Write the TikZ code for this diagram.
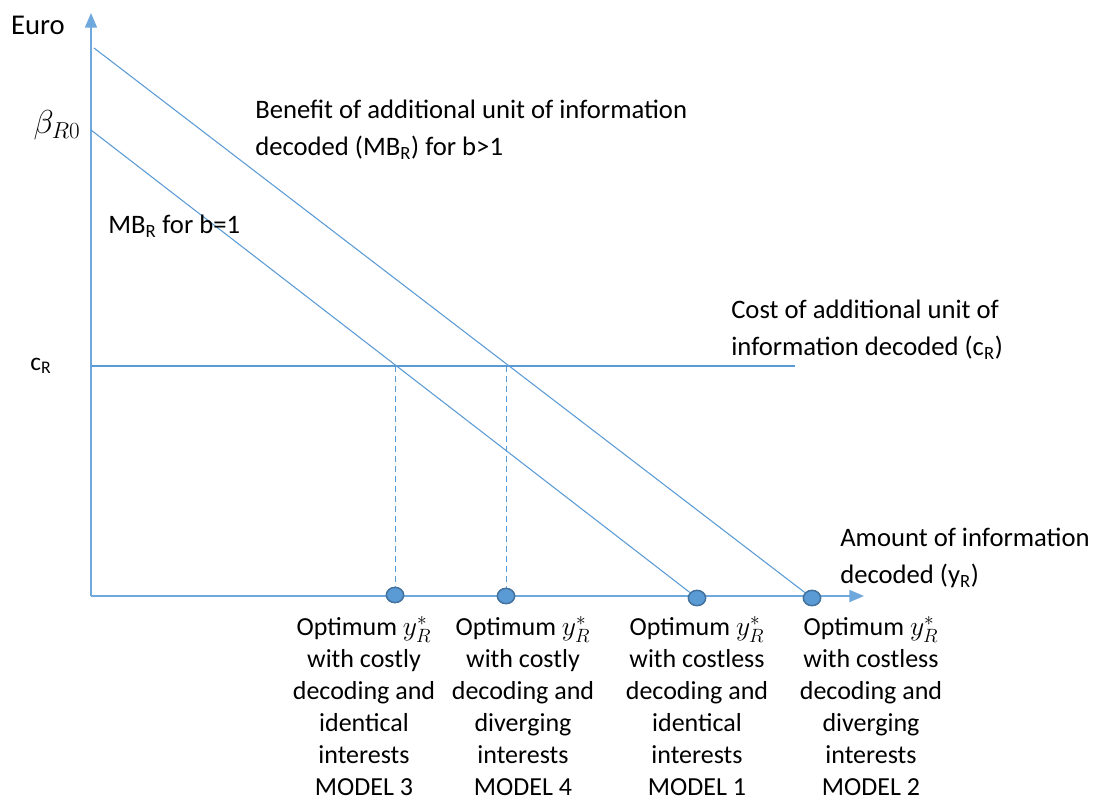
\documentclass[tikz,border=0pt]{standalone}
\usepackage{fontspec}
\setmainfont{Carlito}
\usetikzlibrary{arrows.meta,shapes.geometric}
\definecolor{lineblue}{HTML}{5B9BD5}
\definecolor{axisblue}{HTML}{6FA8DC}
\definecolor{dotedge}{HTML}{41719C}
\newcommand{\subR}{\textsubscript{R}}
\begin{document}
\begin{tikzpicture}[x=0.75pt,y=-0.75pt,
 curve/.style={draw=lineblue, line width=0.8pt},
 axisline/.style={draw=axisblue, line width=1.3pt, -{Triangle[length=11pt,width=9pt]}},
 costline/.style={draw=lineblue, line width=1.5pt},
 guide/.style={draw=lineblue, line width=0.75pt, dash pattern=on 4.5pt off 3pt},
 dot/.style={ellipse, fill=lineblue, draw=dotedge, line width=1.1pt, minimum width=13pt, minimum height=11.5pt, inner sep=0},
 lbl/.style={font=\fontsize{20}{27.5}\selectfont, align=left, anchor=north west, inner sep=0},
 btm/.style={font=\fontsize{19.5}{24}\selectfont, align=center, anchor=north, inner sep=0},
]
\useasboundingbox (0,0) rectangle (1095,800);
\coordinate (O) at (91,596);
\coordinate (ytip) at (91,13);
\coordinate (xtip) at (864,596);
\draw[axisline] (O) -- (ytip);
\draw[axisline] (O) -- (xtip);

\coordinate (c0) at (91,366);
\coordinate (c1) at (795,366);
\draw[costline] (c0) -- (c1);

\node[dot] (d1) at (395,595) {};
\node[dot] (d2) at (506,596) {};
\node[dot] (d3) at (697,598) {};
\node[dot] (d4) at (812,598) {};

\coordinate (u0) at (94,48);
\coordinate (l0) at (91,130);
\draw[curve] (u0) -- (d4);
\draw[curve] (l0) -- (d3);

\coordinate (g1) at (c0 -| d1);
\coordinate (g2) at (c0 -| d2);
\draw[guide] (g1) -- (d1);
\draw[guide] (g2) -- (d2);

\node[font=\fontsize{21.5}{24}\selectfont, inner sep=0] (euro) at (38,25) {Euro};
\node[font=\fontsize{26}{28}\selectfont, inner sep=0] (beta) at (57,125) {$\beta_{R0}$};
\node[font=\fontsize{19}{20}\selectfont, inner sep=0] (cr) at (41,366) {c\subR};

\node[lbl] (mbhi) at (255,100) {Benefit of additional unit of information\\decoded (MB\subR) for b>1};
\node[lbl] (mblo) at (108,215) {MB\textsubscript{R} for b=1};
\node[lbl] (cost) at (731,300) {Cost of additional unit of\\information decoded (c\subR)};
\node[lbl] (amt) at (840,528) {Amount of information\\decoded (y\subR)};

\node[btm] (t1) at (364,616) {Optimum $y_R^*$\\with costly\\decoding and\\identical\\interests\\MODEL 3};
\node[btm] (t2) at (523,616) {Optimum $y_R^*$\\with costly\\decoding and\\diverging\\interests\\MODEL 4};
\node[btm] (t3) at (697,616) {Optimum $y_R^*$\\with costless\\decoding and\\identical\\interests\\MODEL 1};
\node[btm] (t4) at (871,616) {Optimum $y_R^*$\\with costless\\decoding and\\diverging\\interests\\MODEL 2};
\end{tikzpicture}
\end{document}
